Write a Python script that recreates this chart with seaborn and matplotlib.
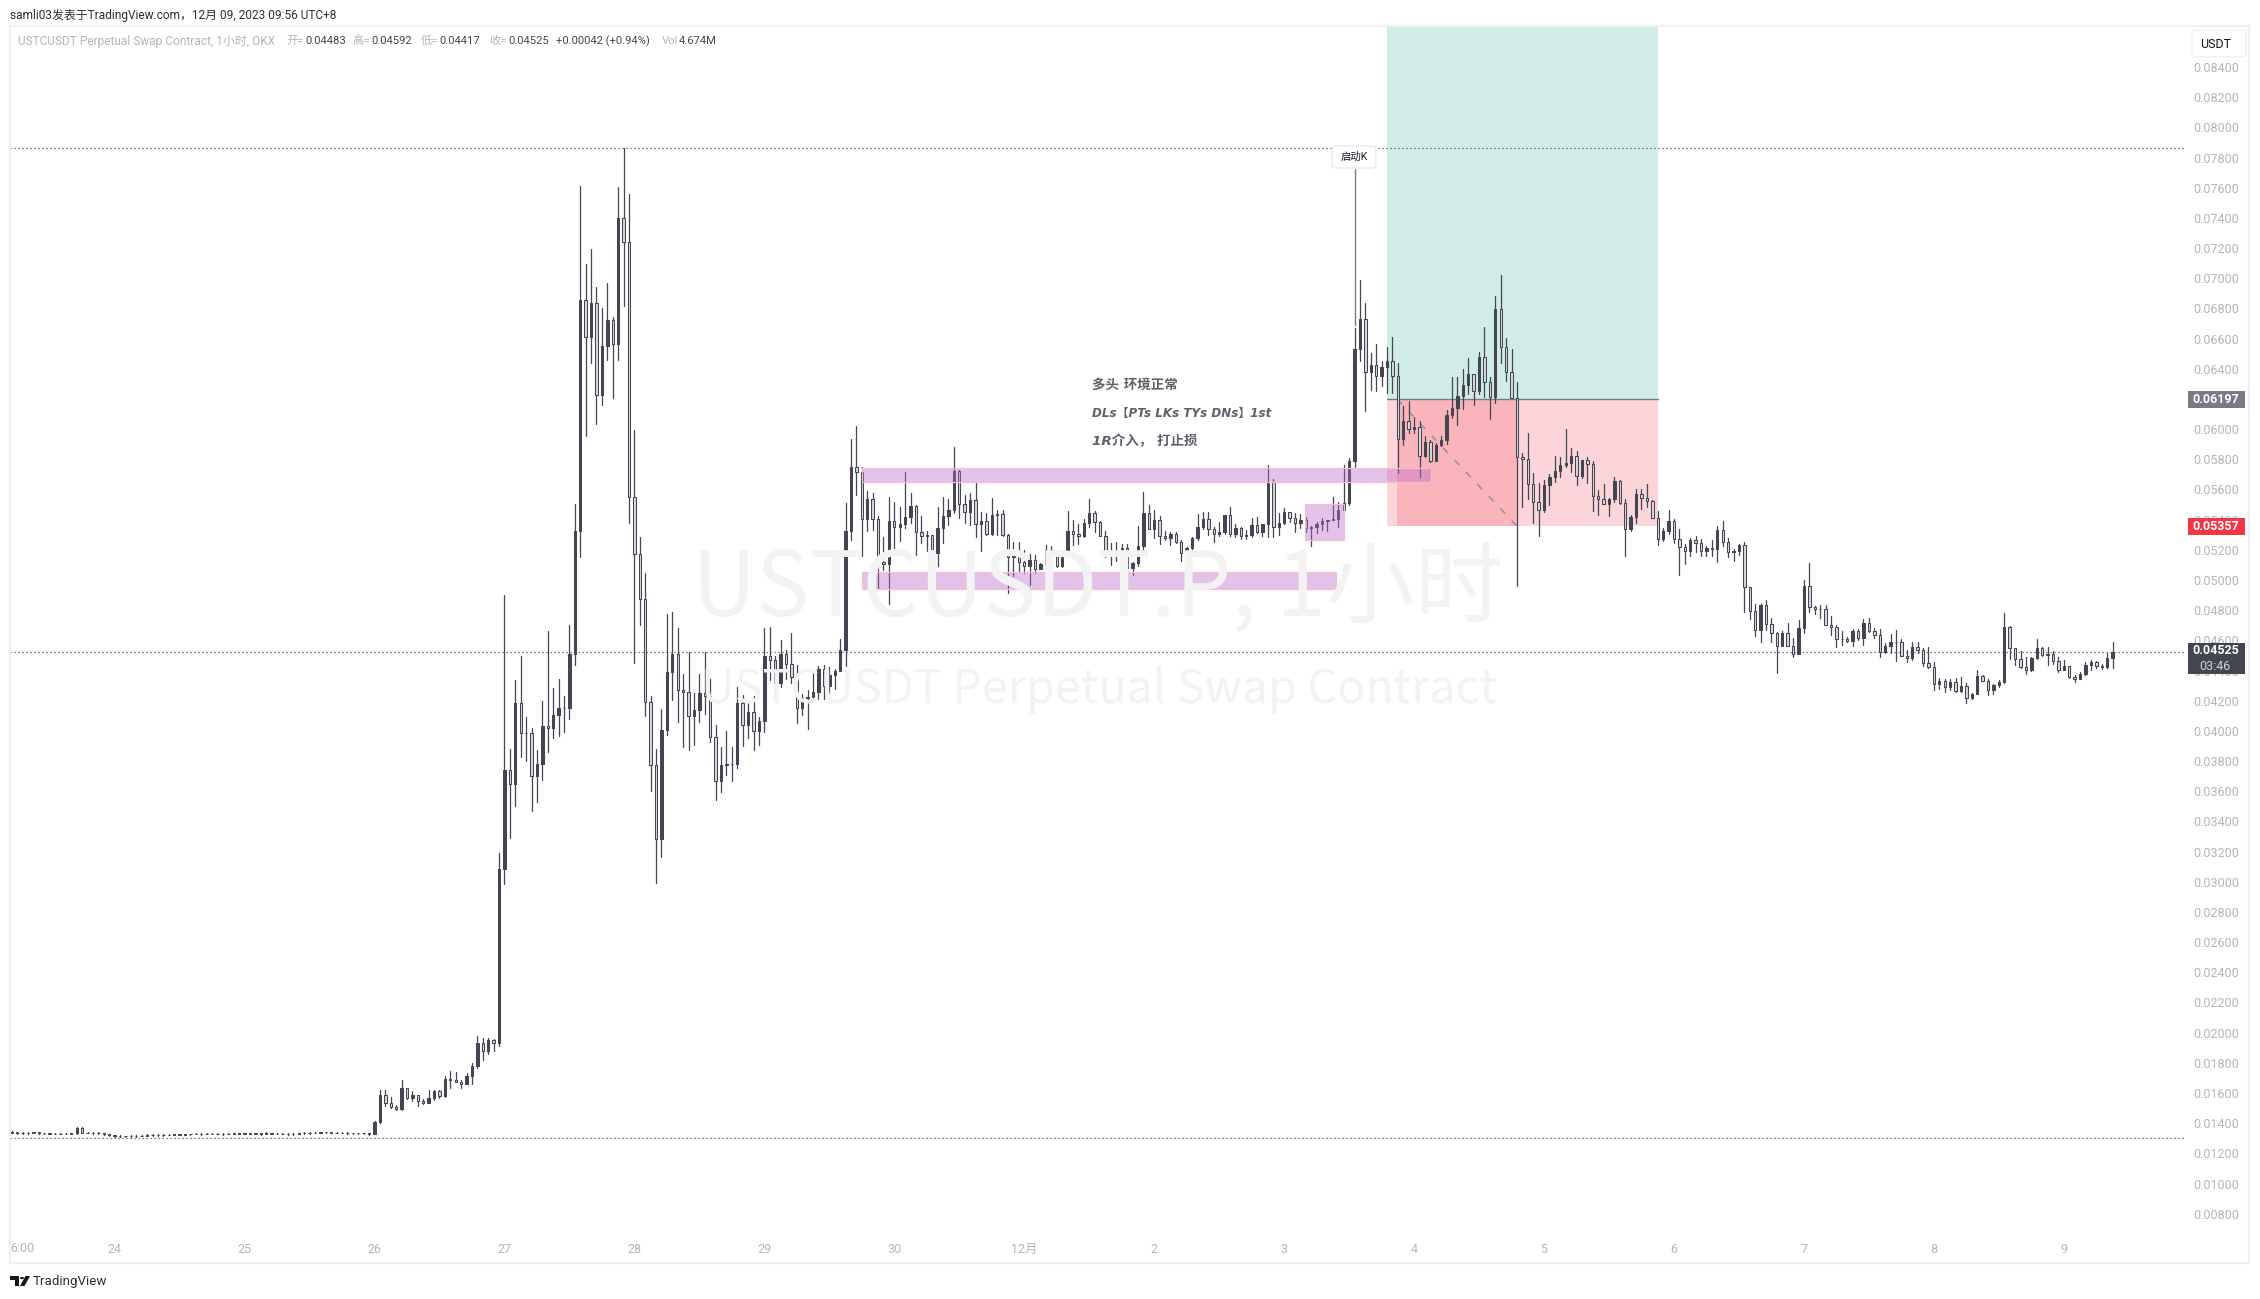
import numpy as np
import pandas as pd
import matplotlib
matplotlib.use("Agg")
import matplotlib.pyplot as plt
from matplotlib.patches import Rectangle, FancyBboxPatch, Polygon, Circle
import seaborn as sns

# --- Data (prices in 0.00001 USDT, hourly bars from 23 Nov 05:00) ---
first_open = 1335

closes_flat = [
    1340, 1336, 1335, 1336, 1340, 1335, 1332, 1331, 1331, 1330,
    1329, 1333, 1368, 1338, 1336, 1334, 1336, 1325, 1320, 1314,
    1315, 1313, 1316, 1314, 1318, 1322, 1321, 1322, 1323, 1324,
    1325, 1324, 1326, 1327, 1330, 1328, 1331, 1330, 1329, 1327,
    1330, 1332, 1331, 1333, 1330, 1334, 1328, 1336, 1330, 1329,
    1330, 1325, 1328, 1332, 1336, 1335, 1338, 1340, 1339, 1338,
    1336, 1338, 1335, 1333, 1334, 1332, 1328,
]
highs_flat = [
    1345, 1342, 1342, 1341, 1344, 1341, 1338, 1336, 1335, 1335,
    1334, 1337, 1372, 1376, 1341, 1339, 1340, 1336, 1326, 1322,
    1319, 1318, 1320, 1320, 1322, 1326, 1326, 1326, 1327, 1328,
    1330, 1329, 1331, 1331, 1334, 1334, 1336, 1335, 1334, 1332,
    1334, 1336, 1336, 1337, 1335, 1338, 1336, 1340, 1338, 1334,
    1334, 1332, 1332, 1336, 1340, 1340, 1342, 1344, 1344, 1343,
    1341, 1342, 1341, 1338, 1338, 1337, 1334,
]
lows_flat = [
    1332, 1331, 1331, 1331, 1333, 1331, 1328, 1327, 1327, 1325,
    1325, 1327, 1330, 1335, 1332, 1331, 1331, 1322, 1316, 1310,
    1310, 1309, 1311, 1310, 1312, 1316, 1317, 1317, 1318, 1320,
    1321, 1320, 1321, 1323, 1325, 1324, 1326, 1326, 1325, 1323,
    1325, 1327, 1327, 1328, 1326, 1329, 1324, 1326, 1326, 1325,
    1325, 1321, 1323, 1327, 1331, 1331, 1333, 1335, 1335, 1334,
    1332, 1333, 1331, 1329, 1330, 1327, 1324,
]

closes_move = [
    1406, 1587, 1536,
    1507, 1492, 1633, 1567, 1587, 1549, 1536, 1567, 1613, 1580,
    1691, 1688, 1675, 1662, 1713, 1779, 1932, 1881, 1951, 1934,
    3085, 3741, 3650, 4184, 3988, 3988, 3701, 3778, 4032, 4018,
    4106, 4150, 4150, 4509, 5324, 6856, 6612, 6836, 6223, 6551,
    6724, 6562, 7400, 7238, 5547, 5175, 4871, 4194, 3775, 3281,
    4008, 4390, 4509, 4272, 4255, 4099, 4137, 4252, 4228, 3957,
    3670, 3775, 3782, 3782, 4184, 4042, 4127, 4001, 4066, 4499,
    4472, 4319, 4512, 4441, 4360, 4150, 4218, 4222, 4258, 4407,
    4296, 4370, 4397, 4539, 5327, 5750, 5713, 5402, 5540, 5402,
]
highs_move = [
    1415, 1620, 1620,
    1571, 1518, 1686, 1633, 1613, 1587, 1563, 1620, 1620, 1620,
    1713, 1746, 1739, 1686, 1730, 1797, 1978, 1962, 1962, 1958,
    3190, 4901, 3883, 4336, 4499, 4093, 4018, 3876, 4201, 4661,
    4282, 4346, 4231, 4701, 5503, 7610, 7096, 7197, 6940, 6802,
    6967, 6744, 7603, 7860, 7559, 5993, 5283, 5046, 4228, 3880,
    4143, 4776, 4786, 4681, 4380, 4522, 4252, 4380, 4522, 4346,
    4042, 3890, 3998, 3890, 4289, 4235, 4184, 4228, 4093, 4681,
    4688, 4499, 4600, 4539, 4647, 4438, 4245, 4269, 4397, 4431,
    4438, 4421, 4410, 4610, 5513, 5936, 6020, 5750, 5588, 5574,
]
lows_move = [
    1328, 1403, 1514,
    1503, 1490, 1490, 1560, 1547, 1514, 1530, 1536, 1554, 1569,
    1574, 1633, 1675, 1633, 1662, 1662, 1766, 1819, 1859, 1878,
    1914, 2987, 3291, 3504, 3829, 3802, 3470, 3531, 3677, 3863,
    3954, 3964, 3991, 4079, 4438, 5155, 5953, 6436, 6034, 6162,
    6460, 6203, 6460, 6815, 5375, 4448, 4701, 4099, 3602, 2990,
    3163, 3974, 4204, 4059, 3890, 3870, 3907, 4059, 4110, 3924,
    3545, 3595, 3707, 3667, 3754, 3903, 3951, 3876, 3907, 3991,
    4336, 4204, 4289, 4346, 4319, 4049, 4103, 4015, 4222, 4208,
    4211, 4238, 4279, 4394, 4431, 5266, 5560, 5158, 5327, 5334,
]

closes_range = [
    5121, 5104, 5391, 5354, 5371, 5418, 5491, 5320, 5294, 5296,
    5181, 5343, 5424, 5464, 5725, 5502, 5453, 5530, 5371, 5393,
    5303, 5429, 5435, 5298, 5155, 5172, 5122, 5095, 5133, 5073,
    5106, 5199, 5166, 5095, 5181, 5325, 5307, 5294, 5376, 5442,
    5382, 5294, 5188, 5175, 5192, 5210, 5082, 5111, 5226, 5442,
    5340, 5398, 5294, 5281, 5303, 5254, 5177, 5210, 5276, 5351,
    5404, 5336, 5303, 5316, 5429, 5305, 5342, 5294, 5298, 5365,
    5316, 5369, 5650, 5349, 5376, 5449, 5409, 5380, 5398, 5345,
    5351, 5371, 5389, 5396, 5402, 5462, 5513, 5789, 6531, 6727,
]
highs_range = [
    5422, 5287, 5548, 5519, 5482, 5714, 5574, 5497, 5424, 5327,
    5298, 5486, 5548, 5537, 5879, 5729, 5563, 5574, 5650, 5453,
    5442, 5541, 5464, 5464, 5303, 5254, 5252, 5199, 5172, 5166,
    5111, 5232, 5228, 5188, 5188, 5457, 5398, 5371, 5402, 5537,
    5457, 5391, 5327, 5243, 5252, 5236, 5239, 5117, 5358, 5581,
    5497, 5464, 5426, 5327, 5318, 5320, 5263, 5219, 5287, 5437,
    5448, 5451, 5349, 5384, 5431, 5482, 5371, 5351, 5332, 5413,
    5420, 5371, 5762, 5667, 5442, 5475, 5451, 5442, 5437, 5420,
    5358, 5387, 5409, 5398, 5548, 5519, 5762, 5806, 6668, 6988,
]
lows_range = [
    4945, 5066, 4839, 5166, 5261, 5343, 5380, 5166, 5243, 5195,
    5077, 5095, 5243, 5365, 5442, 5409, 5376, 5365, 5287, 5195,
    5298, 5298, 5298, 5294, 4916, 5029, 5055, 5044, 4967, 5044,
    5071, 5099, 5159, 5088, 5088, 5172, 5232, 5239, 5287, 5354,
    5320, 5292, 5155, 5099, 5128, 5172, 5051, 5033, 5095, 5188,
    5336, 5276, 5236, 5265, 5230, 5243, 5128, 5172, 5206, 5265,
    5336, 5298, 5254, 5294, 5305, 5294, 5287, 5272, 5270, 5287,
    5309, 5294, 5287, 5287, 5298, 5369, 5387, 5316, 5343, 5320,
    5228, 5309, 5332, 5327, 5398, 5351, 5457, 5495, 5751, 6453,
]

closes_late = [
    6380, 6422, 6354, 6409, 6451, 6354, 5932, 6054, 5998, 6012,
    5824, 5912, 5788, 5894, 5925, 6091, 6137, 6219, 6290, 6363,
    6255, 6475, 6314, 6215, 6794, 6546, 6380, 6208, 5817, 5804,
    5634, 5515, 5462, 5627, 5680, 5722, 5762, 5773, 5822, 5691,
    5795, 5771, 5559, 5534, 5506, 5534, 5656, 5512, 5336, 5415,
    5570, 5541, 5525, 5413, 5269, 5325, 5389, 5269, 5216, 5194,
    5263, 5247, 5190, 5210, 5205, 5331, 5250, 5184, 5194, 5232,
    4952, 4797, 4671, 4837, 4707, 4647, 4565, 4647, 4565, 4512,
    4680, 4961, 4819, 4806, 4806, 4704, 4691, 4611, 4611, 4594,
    4662, 4618, 4713, 4664, 4638, 4525, 4563, 4587, 4587, 4499,
    4486, 4556, 4539, 4452, 4426, 4313, 4331, 4293, 4324, 4267,
    4296, 4220, 4247, 4364, 4333, 4274, 4304, 4324, 4689, 4547,
    4479, 4426, 4406, 4483, 4547, 4501, 4508, 4466, 4406, 4428,
    4357, 4346, 4377, 4437, 4457, 4433, 4422, 4481, 4525,
]
highs_late = [
    6833, 6502, 6564, 6453, 6542, 6610, 6436, 6153, 6186, 6082,
    6054, 5954, 5928, 5910, 5954, 6126, 6345, 6345, 6398, 6469,
    6363, 6509, 6676, 6345, 6882, 7021, 6601, 6531, 6312, 5839,
    5972, 5707, 5640, 5662, 5700, 5822, 5817, 6000, 5877, 5855,
    5795, 5817, 5788, 5596, 5636, 5545, 5685, 5662, 5534, 5431,
    5601, 5603, 5636, 5530, 5457, 5342, 5464, 5404, 5338, 5238,
    5276, 5292, 5269, 5225, 5265, 5358, 5393, 5281, 5204, 5241,
    5254, 4956, 4839, 4841, 4868, 4746, 4656, 4664, 4713, 4614,
    4735, 5000, 5111, 4828, 4835, 4835, 4762, 4700, 4662, 4620,
    4676, 4676, 4740, 4748, 4680, 4676, 4581, 4640, 4669, 4611,
    4536, 4592, 4587, 4552, 4554, 4459, 4353, 4346, 4342, 4349,
    4355, 4316, 4254, 4404, 4371, 4342, 4311, 4338, 4784, 4698,
    4547, 4528, 4492, 4492, 4609, 4558, 4558, 4530, 4492, 4470,
    4433, 4371, 4388, 4455, 4470, 4461, 4441, 4514, 4592,
]
lows_late = [
    6122, 6259, 6255, 6285, 6241, 6241, 5711, 5897, 5972, 5976,
    5685, 5817, 5784, 5788, 5888, 5901, 6071, 6029, 6131, 6230,
    6162, 6230, 6215, 6069, 6175, 6440, 6321, 6208, 4962, 5486,
    5537, 5380, 5294, 5453, 5497, 5651, 5685, 5751, 5718, 5629,
    5673, 5640, 5457, 5431, 5503, 5424, 5519, 5503, 5161, 5325,
    5380, 5470, 5486, 5409, 5232, 5261, 5302, 5247, 5033, 5108,
    5159, 5188, 5161, 5159, 5161, 5119, 5228, 5155, 5126, 5166,
    4790, 4742, 4631, 4592, 4669, 4592, 4386, 4565, 4565, 4492,
    4512, 4647, 4786, 4775, 4746, 4700, 4636, 4558, 4570, 4592,
    4565, 4603, 4570, 4658, 4618, 4492, 4519, 4519, 4463, 4497,
    4459, 4470, 4514, 4430, 4415, 4271, 4276, 4260, 4271, 4260,
    4258, 4187, 4214, 4247, 4329, 4238, 4245, 4293, 4320, 4477,
    4437, 4415, 4377, 4399, 4474, 4497, 4437, 4441, 4393, 4404,
    4349, 4327, 4344, 4371, 4404, 4419, 4413, 4417, 4417,
]

day_ticks = [19, 43, 67, 91, 115, 139, 163, 187, 211, 235, 259, 283, 307, 331, 355, 379]
day_labels = ["24", "25", "26", "27", "28", "29", "30", "12月", "2", "3", "4", "5", "6", "7", "8", "9"]
price_ticks = [round(0.008 + 0.002 * n, 3) for n in range(39)]

high_level, last_price, low_level = 0.07863, 0.04525, 0.01302
entry_price, stop_price = 0.06197, 0.05357

# --- Configuration ---
W, H = 2260, 1299
DARK = "#434651"
HOLLOW = "#D6D8E0"
GREY = "#B2B5BE"
PURPLE = "#BA68C8"
PINK_EDGE = "#F8BBD0"

sns.set_theme(style="white")
plt.rcParams["font.family"] = ["Roboto", "Noto Sans CJK SC", "DejaVu Sans"]


def fx(x):
    return x / W


def fy(y):
    return 1 - y / H


closes = np.concatenate([closes_flat, closes_move, closes_range, closes_late]) / 1e5
highs = np.concatenate([highs_flat, highs_move, highs_range, highs_late]) / 1e5
lows = np.concatenate([lows_flat, lows_move, lows_range, lows_late]) / 1e5
opens = np.r_[first_open / 1e5, closes[:-1]]
bars = np.arange(len(closes))

fig = plt.figure(figsize=(W / 100, H / 100), dpi=100, facecolor="white")
ax = fig.add_axes([fx(10), fy(1263), fx(2249 - 10), (1263 - 26) / H])

# Position tool
x_start, x_fill, x_exit, x_end = 254, 255.9, 278, 304.1
y_top = 0.08672
ax.fill_between([x_start, x_end], entry_price, y_top, color="#D1ECE6", lw=0, zorder=1)
ax.fill_between([x_start, x_end], stop_price, entry_price, color="#FBD5D9", lw=0, zorder=1)
ax.fill_between([x_fill, x_exit], stop_price, entry_price, color="#F9B5BB", lw=0, zorder=1.1)
ax.plot([x_start, x_end], [entry_price] * 2, color="#787B86", lw=1, zorder=1.2)
ax.plot([x_fill, x_exit], [entry_price, stop_price], color="#8A8D98", lw=1, ls=(0, (5, 7)), zorder=1.2)

# Watermark
fig.text(fx(1098), fy(590), "USTCUSDT.P, 1小时", fontsize=64, color="#F3F3F4", ha="center", va="center",
         family=["Noto Sans CJK SC", "DejaVu Sans"], zorder=0.5)
fig.text(fx(1099), fy(690), "USTCUSDT Perpetual Swap Contract", fontsize=33.6, color="#F3F3F4", ha="center",
         va="center", family=["Noto Sans CJK SC", "DejaVu Sans"], zorder=0.5)
ax.patch.set_alpha(0)

# Candles
wicks = pd.DataFrame({
    "bar": np.r_[bars, bars],
    "price": np.r_[lows, highs],
})
sns.lineplot(data=wicks, x="bar", y="price", units="bar", estimator=None, color=DARK, linewidth=0.9,
             legend=False, ax=ax, zorder=3)
body_colors = [DARK if c >= o else HOLLOW for o, c in zip(opens, closes)]
ax.bar(bars, closes - opens, bottom=opens, width=0.44, color=body_colors, edgecolor=DARK, linewidth=0.75, zorder=4)

# Levels
for level in (high_level, last_price, low_level):
    ax.hlines(level, -1, 401.6, color="#555862", lw=0.9, ls=(0, (1, 2.2)), zorder=2)

# Zones
for x0, x1, p0, p1 in [(157.1, 262.1, 0.05651, 0.05740), (157.1, 244.6, 0.04942, 0.05051),
                       (238.9, 246.0, 0.05267, 0.05504)]:
    ax.add_patch(Rectangle((x0, p0), x1 - x0, p1 - p0, facecolor=matplotlib.colors.to_rgba(PURPLE, 0.4),
                           edgecolor=PINK_EDGE, lw=0.9, zorder=5))

# Callout on the impulse candle
ax.plot([248, 248], [0.084 - (169 - 67) / 15088, 0.084 - (325 - 67) / 15088], color="#787B86", lw=1, zorder=3)
fig.add_artist(FancyBboxPatch((fx(1334), fy(167)), fx(40), 20 / H, boxstyle="round,pad=0.0008,rounding_size=0.002",
                              transform=fig.transFigure, facecolor="white", edgecolor="#E8E8F0", lw=1, zorder=6))
fig.text(fx(1354), fy(157), "启动K", fontsize=7.5, color="#131722", ha="center", va="center", zorder=7)

# Notes
note_family = ["DejaVu Sans", "Noto Sans CJK SC"]
for y, note, size in [(385, "多头 环境正常", 9.7), (413, "DLs【PTs LKs TYs DNs】1st", 8.6), (441, "1R介入， 打止损", 9.7)]:
    fig.text(fx(1092), fy(y), note, fontsize=size, color="#5D606B", style="italic", weight="bold", va="center",
             family=note_family, zorder=7)

# Axes
ax.set_xlim(-0.32, 413.2)
ax.set_ylim(0.084 - (1263 - 67) / 15088, 0.084 - (26 - 67) / 15088)
ax.set_xlabel("")
ax.set_ylabel("")
ax.set_xticks(day_ticks, day_labels)
ax.set_yticks(price_ticks, [f"{p:.5f}" for p in price_ticks])
ax.yaxis.tick_right()
ax.tick_params(axis="y", length=0, pad=-7.2, labelsize=9, labelcolor=GREY)
ax.tick_params(axis="x", length=0, pad=-14.5, labelsize=9, labelcolor=GREY)
for label in ax.get_yticklabels():
    label.set_ha("right")
for spine in ax.spines.values():
    spine.set_color("#EFEFF5")
    spine.set_linewidth(1.6)
fig.text(fx(10), fy(1249), "6:00", fontsize=9, color=GREY, va="center")

# Price labels
for y0, y1, color, text in [(391, 408, "#787B86", "0.06197"), (518, 535, "#F23645", "0.05357")]:
    fig.add_artist(Rectangle((fx(2188), fy(y1)), 57 / W, (y1 - y0) / H, transform=fig.transFigure, facecolor=color,
                             edgecolor="none", zorder=6))
    fig.text(fx(2239), fy((y0 + y1) / 2), text, fontsize=9, color="white", weight="bold", ha="right", va="center", zorder=7)
fig.add_artist(Rectangle((fx(2188), fy(674)), 57 / W, 31 / H, transform=fig.transFigure, facecolor=DARK,
                         edgecolor="none", zorder=6))
fig.text(fx(2239), fy(651), "0.04525", fontsize=9, color="white", weight="bold", ha="right", va="center", zorder=7)
fig.text(fx(2230), fy(666), "03:46", fontsize=9, color="#D1D4DC", ha="right", va="center", zorder=7)

fig.add_artist(FancyBboxPatch((fx(2193), fy(56)), 52 / W, 25 / H, boxstyle="round,pad=0.0005,rounding_size=0.002",
                              transform=fig.transFigure, facecolor="white", edgecolor="#EFEFF5", lw=1, zorder=6))
fig.text(fx(2216), fy(45), "USDT", fontsize=9, color="#131722", ha="center", va="center", zorder=7)

# Header
fig.text(fx(10), fy(15), "samli03发表于TradingView.com，12月 09, 2023 09:56 UTC+8", fontsize=8.55, color="#2A2E39", va="center")
legend_parts = [
    (18, "USTCUSDT Perpetual Swap Contract, 1小时, OKX", GREY, 8.6), (286, "开=", GREY, 8.1), (305, "0.04483", DARK, 8.1),
    (352, "高=", GREY, 8.1), (371, "0.04592", DARK, 8.1), (421, "低=", GREY, 8.1), (439, "0.04417", DARK, 8.1),
    (489, "收=", GREY, 8.1), (508, "0.04525", DARK, 8.1), (556, "+0.00042 (+0.94%)", DARK, 8.1), (662, "Vol", GREY, 8.1),
    (679, "4.674M", DARK, 8.1),
]
for x, text, color, size in legend_parts:
    fig.text(fx(x), fy(41), text, fontsize=size, color=color, va="center")

# Footer
fig.add_artist(Polygon([(fx(10), fy(1276)), (fx(19), fy(1276)), (fx(19), fy(1286)), (fx(14.5), fy(1286)),
                        (fx(14.5), fy(1280)), (fx(10), fy(1280))], transform=fig.transFigure, color="#131722", lw=0))
fig.add_artist(Circle((fx(22), fy(1278)), 2 / W, transform=fig.transFigure, color="#131722", lw=0))
fig.add_artist(Polygon([(fx(25.5), fy(1276)), (fx(30), fy(1276)), (fx(24.5), fy(1286)), (fx(20), fy(1286))],
                       transform=fig.transFigure, color="#131722", lw=0))
fig.text(fx(33), fy(1281), "TradingView", fontsize=9.6, color="#2A2E39", va="center")

fig.savefig("out.png", dpi=100)
print(len(bars), len(highs), len(lows))
